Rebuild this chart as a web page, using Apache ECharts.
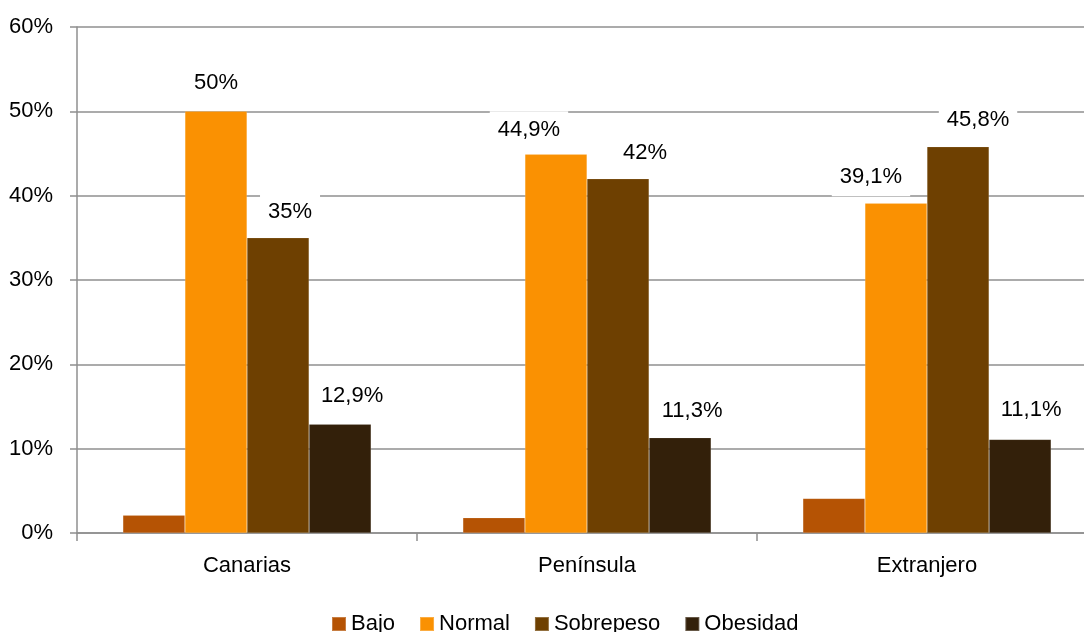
<!DOCTYPE html>
<html>
<head>
<meta charset="utf-8">
<script src="https://cdn.jsdelivr.net/npm/echarts@6/dist/echarts.min.js"></script>
<style>html,body{margin:0;padding:0;background:#fff}#c{width:1084px;height:632px}</style>
</head>
<body>
<div id="c"></div>
<script>
const categories = ['Canarias', 'Península', 'Extranjero'];
const seriesNames = ['Bajo', 'Normal', 'Sobrepeso', 'Obesidad'];
const bajo = [2.1, 1.8, 4.1];
const normal = [50, 44.9, 39.1];
const sobrepeso = [35, 42, 45.8];
const obesidad = [12.9, 11.3, 11.1];
const yTicks = [0, 10, 20, 30, 40, 50, 60];

const FONT = "'Liberation Sans', Arial, sans-serif";
const colors = ['#B55304', '#FA9102', '#6E4001', '#33200A'];
// per-label offsets [dx, dy] (styling only)
const labelShift = {
  Normal: [[0, -1], [-27, 3], [-25, 1]],
  Sobrepeso: [[12, 1], [27, 1], [20, 0]],
  Obesidad: [[12, -1], [12, 0], [11, -2]]
};
const values = [bajo, normal, sobrepeso, obesidad];
const fmt = v => String(v).replace('.', ',') + '%';

const series = seriesNames.map((name, i) => {
  const shifts = labelShift[name];
  return {
    name: name,
    type: 'bar',
    barGap: '0%',
    barCategoryGap: '27%',
    itemStyle: { color: colors[i], borderColor: 'rgba(255,255,255,0.25)', borderWidth: 0.5 },
    data: values[i].map((v, j) => {
      const item = { value: v };
      if (shifts) item.label = { offset: shifts[j] };
      return item;
    }),
    label: {
      show: !!shifts,
      position: 'top',
      distance: 8,
      formatter: p => fmt(p.value),
      color: '#000',
      fontFamily: FONT,
      fontSize: 22,
      backgroundColor: '#fff',
      padding: [8, 8]
    },
    emphasis: { disabled: true }
  };
});

const chart = echarts.init(document.getElementById('c'), null, { renderer: 'canvas' });
chart.setOption({
  animation: false,
  grid: { left: 77, top: 27, width: 1020, height: 506, containLabel: false, outerBoundsMode: 'none' },
  legend: {
    data: seriesNames,
    left: 326,
    top: 608,
    icon: 'rect',
    itemWidth: 14,
    itemHeight: 14,
    itemGap: 24,
    textStyle: { fontFamily: FONT, fontSize: 22, color: '#000' }
  },
  xAxis: {
    type: 'category',
    data: categories,
    axisLine: { lineStyle: { color: '#8f8f8f', width: 1.5 } },
    axisTick: { show: true, length: 8, lineStyle: { color: '#8f8f8f', width: 1.5 } },
    axisLabel: { fontFamily: FONT, fontSize: 22, color: '#000', margin: 22 }
  },
  yAxis: {
    type: 'value',
    min: yTicks[0],
    max: yTicks[yTicks.length - 1],
    interval: yTicks[1] - yTicks[0],
    axisLine: { show: true, lineStyle: { color: '#8f8f8f', width: 1.5 } },
    axisTick: { show: true, length: 7, lineStyle: { color: '#8f8f8f', width: 1.5 } },
    splitLine: { lineStyle: { color: '#8f8f8f', width: 1.5 } },
    axisLabel: { fontFamily: FONT, fontSize: 22, color: '#000', margin: 24, formatter: '{value}%' }
  },
  series: series
});
</script>
</body>
</html>
